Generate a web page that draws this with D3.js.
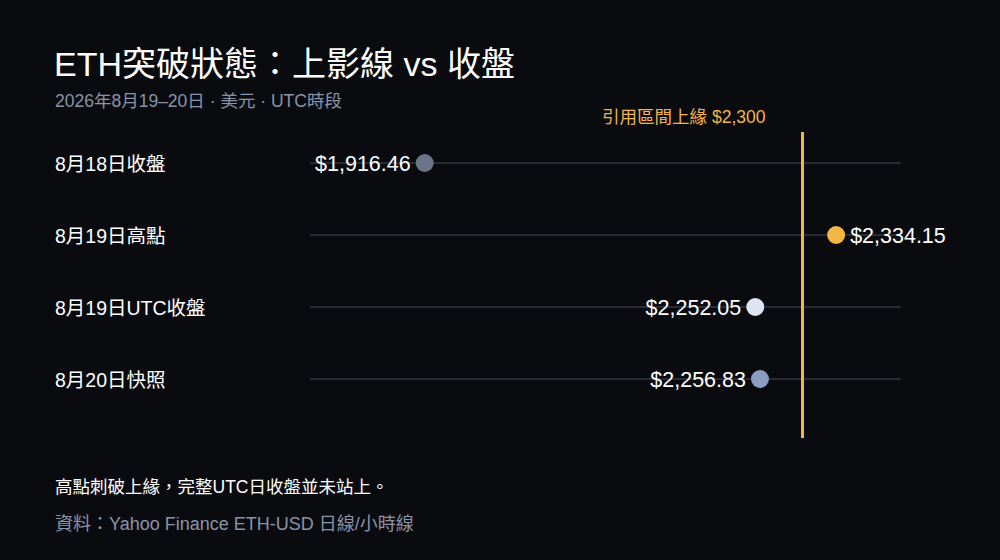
<!DOCTYPE html>
<html>
<head>
<meta charset="utf-8">
<script src="https://cdn.jsdelivr.net/npm/d3@7"></script>
<style>
  html, body { margin: 0; padding: 0; background: #0a0b0f; }
  svg text { font-family: "Liberation Sans", Arial, "Noto Sans CJK TC", sans-serif; }
</style>
</head>
<body>
<div id="chart"></div>
<script>
var categories = ["8月18日收盤", "8月19日高點", "8月19日UTC收盤", "8月20日快照"]
var prices = [1916.46, 2334.15, 2252.05, 2256.83]
var dotColors = ["#6c7488", "#f3b544", "#dfe4f3", "#8a9cc2"]
var labelSide = ["left", "right", "left", "left"]
var refValue = 2300
var refLabel = "引用區間上緣 $2,300"

var width = 1000, height = 560

var svg = d3.select("#chart").append("svg")
  .attr("width", width)
  .attr("height", height)

svg.append("rect")
  .attr("width", width)
  .attr("height", height)
  .attr("fill", "#0a0b0f")

var x = d3.scaleLinear()
  .domain([1800, 2400])
  .range([310, 901])

var y = d3.scalePoint()
  .domain(categories)
  .range([163, 379])

var fmt = d3.format("$,.2f")

// title block
svg.append("text")
  .attr("x", 54).attr("y", 76)
  .attr("fill", "#ffffff")
  .attr("font-size", 34)
  .text("ETH突破狀態：上影線 vs 收盤")

svg.append("text")
  .attr("x", 55).attr("y", 107)
  .attr("fill", "#8a93a8")
  .attr("font-size", 17.5)
  .text("2026年8月19–20日 · 美元 · UTC時段")

// row guide lines
svg.append("g").selectAll("line")
  .data(categories)
  .join("line")
    .attr("x1", x.range()[0])
    .attr("x2", x.range()[1])
    .attr("y1", function (d) { return y(d) })
    .attr("y2", function (d) { return y(d) })
    .attr("stroke", "#262a33")
    .attr("stroke-width", 2)

// row labels
svg.append("g").selectAll("text")
  .data(categories)
  .join("text")
    .attr("x", 55)
    .attr("y", function (d) { return y(d) })
    .attr("dy", 8)
    .attr("fill", "#ffffff")
    .attr("font-size", 19.5)
    .text(function (d) { return d })

// reference line
svg.append("line")
  .attr("x1", x(refValue)).attr("x2", x(refValue))
  .attr("y1", 132).attr("y2", 438)
  .attr("stroke", "#f3b544")
  .attr("stroke-width", 3)

svg.append("text")
  .attr("x", x(refValue) - 37)
  .attr("y", 123)
  .attr("text-anchor", "end")
  .attr("fill", "#f3b544")
  .attr("font-size", 17.5)
  .text(refLabel)

// dots
var rows = categories.map(function (c, i) {
  return { cat: c, value: prices[i], color: dotColors[i], side: labelSide[i] }
})

svg.append("g").selectAll("circle")
  .data(rows)
  .join("circle")
    .attr("cx", function (d) { return x(d.value) })
    .attr("cy", function (d) { return y(d.cat) })
    .attr("r", 9)
    .attr("fill", function (d) { return d.color })

svg.append("g").selectAll("text")
  .data(rows)
  .join("text")
    .attr("x", function (d) { return x(d.value) + (d.side == "right" ? 14 : -14) })
    .attr("y", function (d) { return y(d.cat) })
    .attr("dy", 8)
    .attr("text-anchor", function (d) { return d.side == "right" ? "start" : "end" })
    .attr("fill", "#ffffff")
    .attr("font-size", 21.5)
    .text(function (d) { return fmt(d.value) })

// footer
svg.append("text")
  .attr("x", 55).attr("y", 493)
  .attr("fill", "#ffffff")
  .attr("font-size", 17.5)
  .text("高點刺破上緣，完整UTC日收盤並未站上。")

svg.append("text")
  .attr("x", 55).attr("y", 530)
  .attr("fill", "#8a93a8")
  .attr("font-size", 18)
  .text("資料：Yahoo Finance ETH-USD 日線/小時線")
</script>
</body>
</html>
